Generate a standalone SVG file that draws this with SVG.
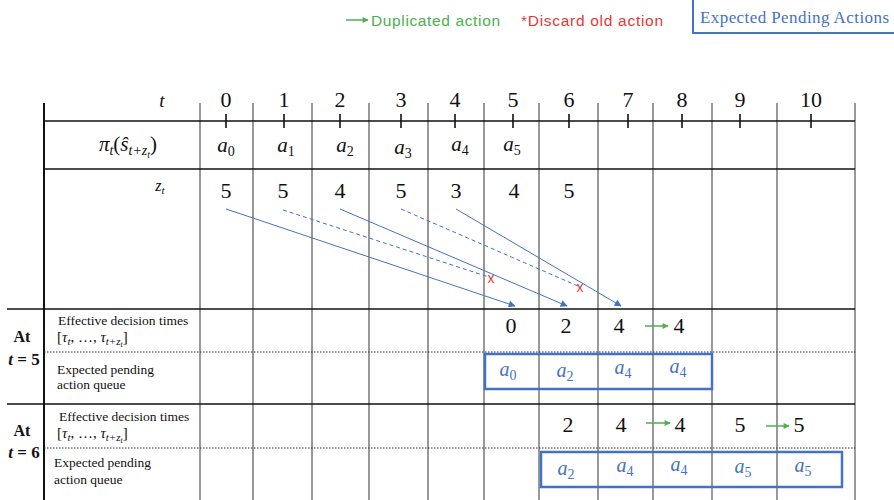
<svg xmlns="http://www.w3.org/2000/svg" width="894" height="500" viewBox="0 0 894 500">
<style>
.bg{fill:#fff}
.hl{stroke:#111;stroke-width:1.6;fill:none}
.vl{stroke:#555;stroke-width:1.2;fill:none}
.dot{stroke:#333;stroke-width:1;stroke-dasharray:1.5 1.5;fill:none}
.num{font-family:"Liberation Serif",serif;font-size:22px;fill:#111;text-anchor:middle}
.math{font-family:"Liberation Serif",serif;font-style:italic;font-size:21px;fill:#111;text-anchor:middle}
.lab{font-family:"Liberation Serif",serif;font-size:13.5px;fill:#111}
.side{font-family:"Liberation Serif",serif;font-weight:bold;font-size:16px;fill:#111;text-anchor:middle}
.bm{font-family:"Liberation Serif",serif;font-style:italic;font-size:20px;fill:#4472C4;text-anchor:middle}
.sub{font-size:14px;font-style:normal}
.blue{stroke:#4472C4;stroke-width:1;fill:none}
.dash{stroke:#4472C4;stroke-width:1;stroke-dasharray:4 3;fill:none}
.green{stroke:#4CAF50;stroke-width:1.5;fill:none}
.qbox{stroke:#4472C4;stroke-width:2.5;fill:none}
.x{font-family:"Liberation Sans",sans-serif;font-size:14px;fill:#E53935;text-anchor:middle}
</style>
<defs>
<marker id="ab" viewBox="0 0 10 10" refX="9" refY="5" markerWidth="9" markerHeight="7" markerUnits="userSpaceOnUse" orient="auto"><path d="M0,0 L10,5 L0,10 z" fill="#4472C4"/></marker>
<marker id="ag" viewBox="0 0 10 10" refX="9" refY="5" markerWidth="7" markerHeight="6" markerUnits="userSpaceOnUse" orient="auto"><path d="M0,0 L10,5 L0,10 z" fill="#4CAF50"/></marker>
</defs>
<rect class="bg" width="894" height="500"/>

<g id="legend">
<line class="green" x1="346" y1="20" x2="368" y2="20" marker-end="url(#ag)"/>
<text x="371" y="26" font-family="Liberation Sans,sans-serif" font-size="15.5" fill="#4CAF50" textLength="129">Duplicated action</text>
<text x="521" y="26" font-family="Liberation Sans,sans-serif" font-size="15.5" fill="#E53935" textLength="142">*Discard old action</text>
<rect x="693" y="-2" width="210" height="35" fill="none" stroke="#4472C4" stroke-width="2"/>
<text x="700" y="23" font-family="Liberation Serif,serif" font-size="17" fill="#4472C4" textLength="189">Expected Pending Actions</text>
</g>

<g id="grid">
<line class="vl" x1="200" y1="103" x2="200" y2="500"/>
<line class="vl" x1="253" y1="103" x2="253" y2="500"/>
<line class="vl" x1="312" y1="103" x2="312" y2="500"/>
<line class="vl" x1="369" y1="103" x2="369" y2="500"/>
<line class="vl" x1="428" y1="103" x2="428" y2="500"/>
<line class="vl" x1="484" y1="103" x2="484" y2="500"/>
<line class="vl" x1="539" y1="103" x2="539" y2="500"/>
<line class="vl" x1="598" y1="103" x2="598" y2="500"/>
<line class="vl" x1="653" y1="103" x2="653" y2="500"/>
<line class="vl" x1="712" y1="103" x2="712" y2="500"/>
<line class="vl" x1="777" y1="103" x2="777" y2="500"/>
<line class="vl" x1="855" y1="103" x2="855" y2="500"/>
<line class="hl" x1="44" y1="121" x2="855" y2="121"/>
<line class="hl" x1="44" y1="169" x2="855" y2="169"/>
<line class="hl" x1="7" y1="309" x2="855" y2="309"/>
<line class="dot" x1="44" y1="352" x2="855" y2="352"/>
<line class="hl" x1="7" y1="404" x2="855" y2="404"/>
<line class="dot" x1="44" y1="448" x2="855" y2="448"/>
<line x1="44" y1="103" x2="44" y2="500" stroke="#111" stroke-width="2"/>
</g>

<g id="time-axis">
<text class="math" x="162" y="107" style="font-size:19px">t</text>
<g class="hl">
<line x1="226" y1="114" x2="226" y2="128"/><line x1="284" y1="114" x2="284" y2="128"/>
<line x1="340" y1="114" x2="340" y2="128"/><line x1="401" y1="114" x2="401" y2="128"/>
<line x1="455" y1="114" x2="455" y2="128"/><line x1="513" y1="114" x2="513" y2="128"/>
<line x1="569" y1="114" x2="569" y2="128"/><line x1="628" y1="114" x2="628" y2="128"/>
<line x1="682" y1="114" x2="682" y2="128"/><line x1="740" y1="114" x2="740" y2="128"/>
<line x1="811" y1="114" x2="811" y2="128"/>
</g>
<text class="num" x="226" y="107">0</text><text class="num" x="284" y="107">1</text>
<text class="num" x="340" y="107">2</text><text class="num" x="401" y="107">3</text>
<text class="num" x="455" y="107">4</text><text class="num" x="513" y="107">5</text>
<text class="num" x="569" y="107">6</text><text class="num" x="628" y="107">7</text>
<text class="num" x="682" y="107">8</text><text class="num" x="740" y="107">9</text>
<text class="num" x="811" y="107">10</text>
</g>

<g id="policy-row">
<text class="math" x="128" y="151">π<tspan style="font-size:14px;font-style:italic" dy="4">t</tspan><tspan dy="-4" style="font-style:normal">(</tspan>ŝ<tspan style="font-size:14px;font-style:italic" dy="4">t+z</tspan><tspan style="font-size:10px;font-style:italic" dy="3">t</tspan><tspan dy="-7" style="font-style:normal">)</tspan></text>
<text class="math" x="226" y="152">a<tspan class="sub" dy="4">0</tspan></text>
<text class="math" x="286" y="152">a<tspan class="sub" dy="4">1</tspan></text>
<text class="math" x="345" y="152">a<tspan class="sub" dy="4">2</tspan></text>
<text class="math" x="403" y="154">a<tspan class="sub" dy="4">3</tspan></text>
<text class="math" x="460" y="151">a<tspan class="sub" dy="4">4</tspan></text>
<text class="math" x="512" y="151">a<tspan class="sub" dy="4">5</tspan></text>
</g>

<g id="delay-row">
<text class="math" x="160" y="191" style="font-size:16px">z<tspan style="font-size:11px;font-style:italic" dy="3">t</tspan></text>
<text class="num" x="226" y="198">5</text><text class="num" x="283" y="198">5</text>
<text class="num" x="340" y="198">4</text><text class="num" x="401" y="198">5</text>
<text class="num" x="456" y="198">3</text><text class="num" x="514" y="198">4</text>
<text class="num" x="569" y="198">5</text>
</g>

<g id="connectors">
<line class="blue" x1="226" y1="209" x2="515" y2="306" marker-end="url(#ab)"/>
<line class="dash" x1="283" y1="210" x2="489" y2="277"/>
<line class="blue" x1="340" y1="209" x2="567" y2="306" marker-end="url(#ab)"/>
<line class="dash" x1="401" y1="209" x2="578" y2="286"/>
<line class="blue" x1="456" y1="209" x2="621" y2="306" marker-end="url(#ab)"/>
<text class="x" x="491" y="283">x</text>
<text class="x" x="580" y="292">x</text>
</g>

<g id="t5-block">
<text class="side" x="22" y="342">At</text>
<text class="side" x="24" y="365" style="font-size:17px"><tspan style="font-style:italic">t</tspan> = 5</text>
<text class="lab" x="58" y="325">Effective decision times</text>
<text class="lab" x="57" y="342" style="font-size:15px">[<tspan style="font-style:italic">τ</tspan><tspan style="font-size:11px;font-style:italic" dy="3">t</tspan><tspan dy="-3">, …, </tspan><tspan style="font-style:italic">τ</tspan><tspan style="font-size:11px;font-style:italic" dy="3">t+z</tspan><tspan style="font-size:8px;font-style:italic" dy="2">t</tspan><tspan dy="-5">]</tspan></text>
<text class="lab" x="57" y="374">Expected pending</text>
<text class="lab" x="57" y="389">action queue</text>
<text class="num" x="511" y="333">0</text><text class="num" x="566" y="333">2</text>
<text class="num" x="619" y="333">4</text><text class="num" x="679" y="333">4</text>
<line class="green" x1="645" y1="326" x2="668" y2="326" marker-end="url(#ag)"/>
<rect class="qbox" x="485" y="354" width="227" height="35"/>
<text class="bm" x="508" y="376">a<tspan class="sub" dy="4">0</tspan></text>
<text class="bm" x="565" y="377">a<tspan class="sub" dy="4">2</tspan></text>
<text class="bm" x="623" y="374">a<tspan class="sub" dy="4">4</tspan></text>
<text class="bm" x="678" y="373">a<tspan class="sub" dy="4">4</tspan></text>
</g>

<g id="t6-block">
<text class="side" x="22" y="436">At</text>
<text class="side" x="24" y="458" style="font-size:17px"><tspan style="font-style:italic">t</tspan> = 6</text>
<text class="lab" x="59" y="421">Effective decision times</text>
<text class="lab" x="57" y="438" style="font-size:15px">[<tspan style="font-style:italic">τ</tspan><tspan style="font-size:11px;font-style:italic" dy="3">t</tspan><tspan dy="-3">, …, </tspan><tspan style="font-style:italic">τ</tspan><tspan style="font-size:11px;font-style:italic" dy="3">t+z</tspan><tspan style="font-size:8px;font-style:italic" dy="2">t</tspan><tspan dy="-5">]</tspan></text>
<text class="lab" x="54" y="467">Expected pending</text>
<text class="lab" x="54" y="484">action queue</text>
<text class="num" x="568" y="432">2</text><text class="num" x="621" y="432">4</text>
<text class="num" x="680" y="432">4</text><text class="num" x="740" y="432">5</text>
<text class="num" x="799" y="432">5</text>
<line class="green" x1="646" y1="423" x2="670" y2="423" marker-end="url(#ag)"/>
<line class="green" x1="766" y1="426" x2="789" y2="426" marker-end="url(#ag)"/>
<rect class="qbox" x="541" y="452" width="301" height="35"/>
<text class="bm" x="566" y="475">a<tspan class="sub" dy="4">2</tspan></text>
<text class="bm" x="625" y="472">a<tspan class="sub" dy="4">4</tspan></text>
<text class="bm" x="679" y="471">a<tspan class="sub" dy="4">4</tspan></text>
<text class="bm" x="743" y="473">a<tspan class="sub" dy="4">5</tspan></text>
<text class="bm" x="803" y="472">a<tspan class="sub" dy="4">5</tspan></text>
</g>
</svg>
